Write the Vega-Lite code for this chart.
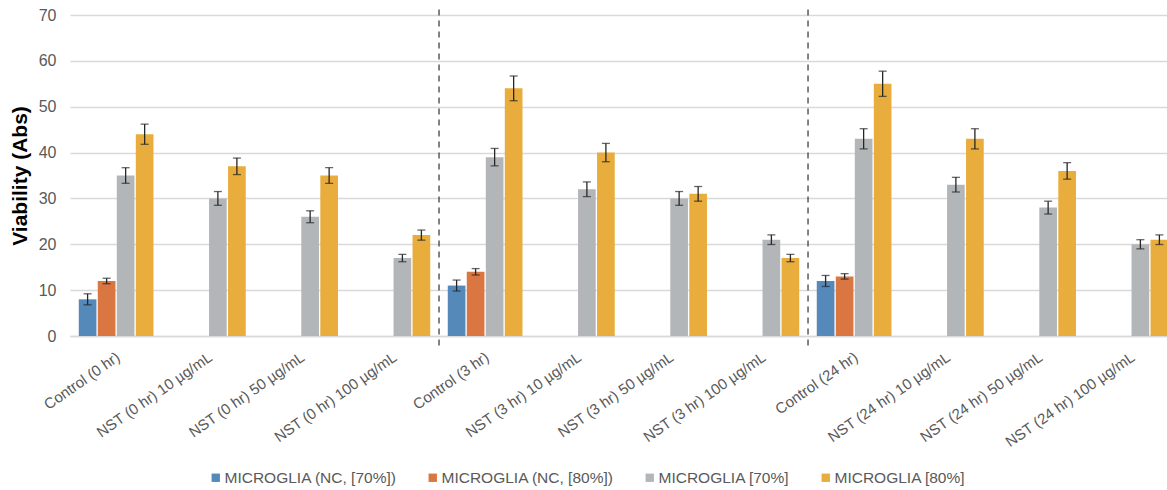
{
  "$schema": "https://vega.github.io/schema/vega-lite/v6.json",
  "width": 1097,
  "height": 321,
  "autosize": {"type": "none"},
  "padding": {"left": 70, "top": 15, "right": 0, "bottom": 154},
  "background": "white",
  "config": {
    "view": {"stroke": null},
    "font": "Liberation Sans"
  },
  "data": {
    "values": [
      {"cat": "Control (0 hr)", "series": "MICROGLIA (NC, [70%])", "value": 8, "err": 1.2},
      {"cat": "Control (0 hr)", "series": "MICROGLIA (NC, [80%])", "value": 12, "err": 0.6},
      {"cat": "Control (0 hr)", "series": "MICROGLIA [70%]", "value": 35, "err": 1.7},
      {"cat": "Control (0 hr)", "series": "MICROGLIA [80%]", "value": 44, "err": 2.2},
      {"cat": "NST (0 hr) 10 µg/mL", "series": "MICROGLIA [70%]", "value": 30, "err": 1.5},
      {"cat": "NST (0 hr) 10 µg/mL", "series": "MICROGLIA [80%]", "value": 37, "err": 1.8},
      {"cat": "NST (0 hr) 50 µg/mL", "series": "MICROGLIA [70%]", "value": 26, "err": 1.3},
      {"cat": "NST (0 hr) 50 µg/mL", "series": "MICROGLIA [80%]", "value": 35, "err": 1.7},
      {"cat": "NST (0 hr) 100 µg/mL", "series": "MICROGLIA [70%]", "value": 17, "err": 0.8},
      {"cat": "NST (0 hr) 100 µg/mL", "series": "MICROGLIA [80%]", "value": 22, "err": 1.1},
      {"cat": "Control (3 hr)", "series": "MICROGLIA (NC, [70%])", "value": 11, "err": 1.2},
      {"cat": "Control (3 hr)", "series": "MICROGLIA (NC, [80%])", "value": 14, "err": 0.7},
      {"cat": "Control (3 hr)", "series": "MICROGLIA [70%]", "value": 39, "err": 1.9},
      {"cat": "Control (3 hr)", "series": "MICROGLIA [80%]", "value": 54, "err": 2.7},
      {"cat": "NST (3 hr) 10 µg/mL", "series": "MICROGLIA [70%]", "value": 32, "err": 1.6},
      {"cat": "NST (3 hr) 10 µg/mL", "series": "MICROGLIA [80%]", "value": 40, "err": 2.0},
      {"cat": "NST (3 hr) 50 µg/mL", "series": "MICROGLIA [70%]", "value": 30, "err": 1.5},
      {"cat": "NST (3 hr) 50 µg/mL", "series": "MICROGLIA [80%]", "value": 31, "err": 1.6},
      {"cat": "NST (3 hr) 100 µg/mL", "series": "MICROGLIA [70%]", "value": 21, "err": 1.05},
      {"cat": "NST (3 hr) 100 µg/mL", "series": "MICROGLIA [80%]", "value": 17, "err": 0.8},
      {"cat": "Control (24 hr)", "series": "MICROGLIA (NC, [70%])", "value": 12, "err": 1.2},
      {"cat": "Control (24 hr)", "series": "MICROGLIA (NC, [80%])", "value": 13, "err": 0.6},
      {"cat": "Control (24 hr)", "series": "MICROGLIA [70%]", "value": 43, "err": 2.2},
      {"cat": "Control (24 hr)", "series": "MICROGLIA [80%]", "value": 55, "err": 2.75},
      {"cat": "NST (24 hr) 10 µg/mL", "series": "MICROGLIA [70%]", "value": 33, "err": 1.6},
      {"cat": "NST (24 hr) 10 µg/mL", "series": "MICROGLIA [80%]", "value": 43, "err": 2.2},
      {"cat": "NST (24 hr) 50 µg/mL", "series": "MICROGLIA [70%]", "value": 28, "err": 1.4},
      {"cat": "NST (24 hr) 50 µg/mL", "series": "MICROGLIA [80%]", "value": 36, "err": 1.8},
      {"cat": "NST (24 hr) 100 µg/mL", "series": "MICROGLIA [70%]", "value": 20, "err": 1.0},
      {"cat": "NST (24 hr) 100 µg/mL", "series": "MICROGLIA [80%]", "value": 21, "err": 1.05}
    ]
  },
  "encoding": {
    "x": {
      "field": "cat",
      "type": "nominal",
      "sort": null,
      "scale": {"range": [0, 1107], "paddingInner": 0.19, "paddingOuter": 0.095},
      "axis": {
        "title": null,
        "labelAngle": -35,
        "labelAlign": "right",
        "labelBaseline": "middle",
        "labelPadding": 19,
        "labelOffset": 2,
        "labelFontSize": 15,
        "labelColor": "#595959",
        "labelLimit": 0,
        "ticks": false,
        "domainColor": "#d9d9d9",
        "domainWidth": 1.5,
        "grid": false
      }
    },
    "xOffset": {
      "field": "series",
      "type": "nominal",
      "scale": {
        "domain": ["MICROGLIA (NC, [70%])", "MICROGLIA (NC, [80%])", "MICROGLIA [70%]", "MICROGLIA [80%]"],
        "paddingInner": 0.07,
        "paddingOuter": 0
      }
    }
  },
  "layer": [
    {
      "mark": {"type": "bar"},
      "encoding": {
        "y": {
          "field": "value",
          "type": "quantitative",
          "title": "Viability (Abs)",
          "scale": {"domain": [0, 70]},
          "axis": {
            "title": "Viability (Abs)",
            "titleFontSize": 21,
            "titleFontWeight": "bold",
            "titleColor": "#000000",
            "titlePadding": 8,
            "values": [0, 10, 20, 30, 40, 50, 60, 70],
            "labelFontSize": 16,
            "labelColor": "#595959",
            "labelPadding": 14,
            "ticks": false,
            "domain": false,
            "gridColor": "#d9d9d9",
            "gridWidth": 1.5
          }
        },
        "color": {
          "field": "series",
          "type": "nominal",
          "scale": {
            "domain": ["MICROGLIA (NC, [70%])", "MICROGLIA (NC, [80%])", "MICROGLIA [70%]", "MICROGLIA [80%]"],
            "range": ["#5589ba", "#d97642", "#b3b6b9", "#e8ad3c"]
          },
          "legend": {
            "title": null,
            "orient": "none",
            "direction": "horizontal",
            "legendX": 138,
            "legendY": 455,
            "gridAlign": "none",
            "symbolType": "square",
            "symbolSize": 70,
            "symbolStrokeWidth": 0,
            "labelFontSize": 15.5,
            "labelColor": "#595959",
            "labelLimit": 0,
            "labelOffset": 1,
            "columnPadding": 28
          }
        }
      }
    },
    {
      "mark": {"type": "errorbar", "ticks": {"size": 8, "color": "#262626", "strokeWidth": 1.3}, "color": "#262626", "thickness": 1.3},
      "encoding": {
        "y": {"field": "value", "type": "quantitative", "title": "Viability (Abs)"},
        "yError": {"field": "err"}
      }
    },
    {
      "data": {"values": [{"cat": "Control (3 hr)"}, {"cat": "Control (24 hr)"}]},
      "mark": {"type": "rule", "color": "#333333", "strokeDash": [6, 5], "strokeWidth": 1.2},
      "encoding": {
        "x": {"field": "cat", "type": "nominal", "sort": null, "bandPosition": -0.117},
        "xOffset": null,
        "y": {"datum": 71.2},
        "y2": {"datum": -2.2}
      }
    }
  ]
}
